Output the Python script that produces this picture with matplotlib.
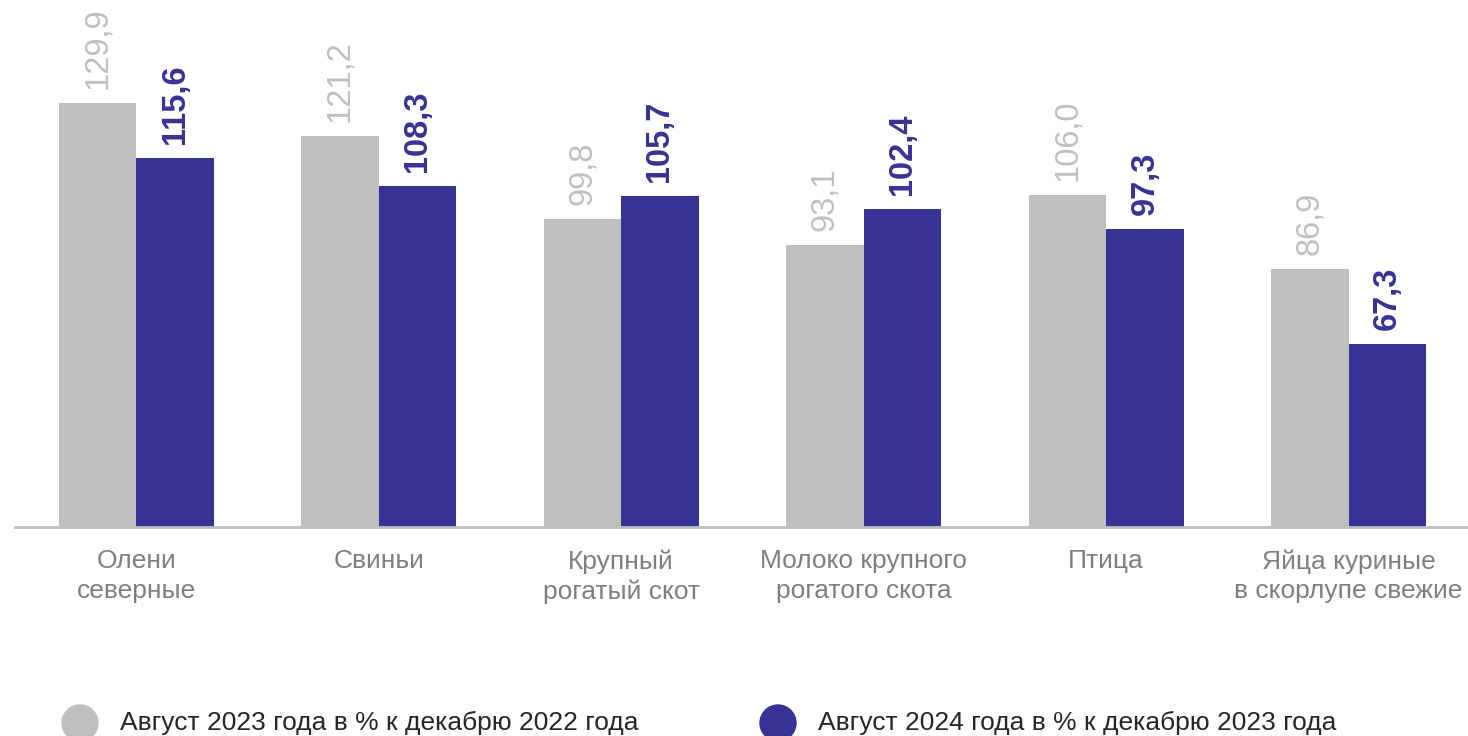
import matplotlib.pyplot as plt
from matplotlib.patches import Ellipse
import numpy as np

# --- dados
categorias = ['Олени\nсеверные', 'Свиньи', 'Крупный\nрогатый скот',
              'Молоко крупного\nрогатого скота', 'Птица',
              'Яйца куриные\nв скорлупе свежие']
ago_2023 = [129.9, 121.2, 99.8, 93.1, 106.0, 86.9]
ago_2024 = [115.6, 108.3, 105.7, 102.4, 97.3, 67.3]
legenda = ['Август 2023 года в % к декабрю 2022 года',
           'Август 2024 года в % к декабрю 2023 года']

cinza = '#bfbfbf'
azul = '#363394'

plt.rcParams['font.family'] = ['Liberation Sans', 'DejaVu Sans']

fig = plt.figure(figsize=(14.68, 7.36), dpi=100)
ax = fig.add_axes([15 / 1468, (736 - 527) / 736, 0.991, 527 / 736])

x = np.arange(len(categorias))
w = 0.32
ax.bar(x - w / 2, ago_2023, w, color=cinza)
ax.bar(x + w / 2, ago_2024, w, color=azul)

# rótulos de valor (verticais)
for xi, v in zip(x, ago_2023):
    ax.annotate(f'{v:.1f}'.replace('.', ','), (xi - w / 2, v),
                xytext=(0, 10), textcoords='offset points',
                rotation=90, ha='center', va='bottom',
                fontsize=23.5, color=cinza)
for xi, v in zip(x, ago_2024):
    ax.annotate(f'{v:.1f}'.replace('.', ','), (xi + w / 2, v),
                xytext=(0, 10), textcoords='offset points',
                rotation=90, ha='center', va='bottom',
                fontsize=23.5, color=azul, fontweight='bold')

ax.set_xlim(-0.5, 5.5)
ax.set_ylim(20, 156.5)
ax.set_yticks([])
ax.set_xticks(x)
ax.set_xticklabels(categorias, fontsize=19, color='#7f7f7f', linespacing=1.3)
ax.tick_params(axis='x', length=0, pad=16)
for s in ['top', 'right', 'left']:
    ax.spines[s].set_visible(False)
ax.spines['bottom'].set_color(cinza)
ax.spines['bottom'].set_linewidth(2)

# legenda
fig.patches.append(Ellipse((80 / 1468, 13 / 736), 36 / 1468, 36 / 736,
                           transform=fig.transFigure, color=cinza))
fig.patches.append(Ellipse((778 / 1468, 13 / 736), 36 / 1468, 36 / 736,
                           transform=fig.transFigure, color=azul))
fig.text(120 / 1468, 13 / 736, legenda[0], fontsize=19, color='#262626',
         va='center', ha='left')
fig.text(818 / 1468, 13 / 736, legenda[1], fontsize=19, color='#262626',
         va='center', ha='left')

fig.savefig('out.png', dpi=100)
